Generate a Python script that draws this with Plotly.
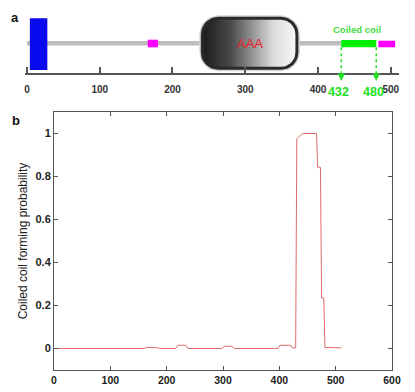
import numpy as np
import plotly.graph_objects as go

# ---------------- data ----------------
# panel b: coiled-coil forming probability along the sequence
residue = [1, 160, 165, 180, 190, 216, 220, 234, 238, 298, 302, 316, 320,
           398, 401, 420, 423, 429, 431, 432, 441, 466, 468, 473, 475, 479, 481, 510]
probability = [0, 0, 0.005, 0.005, 0, 0, 0.015, 0.015, 0, 0, 0.01, 0.01, 0,
               0, 0.015, 0.015, 0.003, 0.003, 0.975, 0.978, 1.0, 1.0, 0.843, 0.843,
               0.235, 0.235, 0.005, 0.003]

# panel a: domain architecture
domain_names = ["N-term", "motif1", "AAA", "Coiled coil", "motif2"]
domain_start = [4, 166, 241, 432, 483]
domain_end = [28, 180, 371, 480, 506]
backbone_end = 432
coil_labels = ["432", "480"]

top_ticks = [0, 100, 200, 300, 400, 500]
x_ticks = [0, 100, 200, 300, 400, 500, 600]
y_ticks = [0, 0.2, 0.4, 0.6, 0.8, 1]
y_tick_text = ["0", "0.2", "0.4", "0.6", "0.8", "1"]

# ---------------- figure ----------------
W, H = 415, 392
FONT = "Liberation Sans, Arial, sans-serif"
GREEN = "#22e022"
fig = go.Figure()

# main probability line
fig.add_trace(go.Scatter(x=residue, y=probability, mode="lines",
                         line=dict(color="#e06a6a", width=1),
                         xaxis="x", yaxis="y", showlegend=False, hoverinfo="skip"))

# ---- panel a geometry (y2 units = pixels above the ruler) ----
def rounded_rect(x0, x1, y0, y1, rx, ry, n=12):
    xs, ys = [], []
    corners = [(x1 - rx, y1 - ry, 0), (x0 + rx, y1 - ry, 90),
               (x0 + rx, y0 + ry, 180), (x1 - rx, y0 + ry, 270)]
    for cx, cy, a0 in corners:
        t = np.radians(np.linspace(a0, a0 + 90, n))
        xs.extend(cx + rx * np.cos(t))
        ys.extend(cy + ry * np.sin(t))
    xs.append(xs[0]); ys.append(ys[0])
    return xs, ys

px_per_res = 0.7275
aaa_i = domain_names.index("AAA")
ax0, ax1 = domain_start[aaa_i], domain_end[aaa_i]
rx = 16 / px_per_res
ry = 16
hx, hy = rounded_rect(ax0, ax1, 5.7, 55.7, rx, ry)
# halo
fig.add_trace(go.Scatter(x=hx, y=hy, mode="lines", line=dict(color="#d4d4d4", width=6),
                         xaxis="x2", yaxis="y2", showlegend=False, hoverinfo="skip"))
fig.add_trace(go.Scatter(x=hx, y=hy, mode="lines", fill="toself",
                         fillgradient=dict(type="horizontal",
                                           colorscale=[[0, "#1a1a1a"], [0.3, "#4a4a4a"],
                                                       [0.75, "#dcdcdc"], [1, "#f8f8f8"]]),
                         line=dict(color="#2a2a2a", width=3),
                         xaxis="x2", yaxis="y2", showlegend=False, hoverinfo="skip"))

shapes = []
# backbone (drawn below)
shapes.append(dict(type="line", xref="x2", yref="y2", x0=0, x1=backbone_end, y0=30.7, y1=30.7,
                   line=dict(color="#bdbdbd", width=4.5), layer="below"))
box_style = {
    "N-term": dict(fill="#0a0aee", y0=4, y1=55.7),
    "motif1": dict(fill="#ff00ff", y0=26.7, y1=34.3),
    "Coiled coil": dict(fill="#00ee00", y0=26.7, y1=34.0),
    "motif2": dict(fill="#ff00ff", y0=26.7, y1=33.3),
}
for name, s, e in zip(domain_names, domain_start, domain_end):
    if name in box_style:
        st = box_style[name]
        shapes.append(dict(type="rect", xref="x2", yref="y2", x0=s, x1=e, y0=st["y0"], y1=st["y1"],
                           fillcolor=st["fill"], line=dict(width=0), layer="above"))

ci = domain_names.index("Coiled coil")
coil_ends = [domain_start[ci], domain_end[ci]]
annotations = []
for xv, lab in zip(coil_ends, coil_labels):
    shapes.append(dict(type="line", xref="x2", yref="y2", x0=xv, x1=xv, y0=26.7, y1=-3,
                       line=dict(color=GREEN, width=1.5, dash="dot")))
    annotations.append(dict(x=xv, y=-7, xref="x2", yref="y2", text="", showarrow=True,
                            ax=0, ay=-5, arrowhead=2, arrowsize=1, arrowwidth=1.5,
                            arrowcolor=GREEN))
    annotations.append(dict(x=xv, y=-18, xref="x2", yref="y2", text=f"<b>{lab}</b>",
                            xshift=-3, showarrow=False,
                            font=dict(family=FONT, size=12.5, color=GREEN)))

annotations.append(dict(x=sum(coil_ends) / 2, y=45, xref="x2", yref="y2",
                        text="<b>Coiled coil</b>", showarrow=False, xshift=-2,
                        font=dict(family=FONT, size=9.5, color="#44dd44")))
annotations.append(dict(x=(ax0 + ax1) / 2, y=30.7, xref="x2", yref="y2", text="AAA",
                        showarrow=False, font=dict(family=FONT, size=13, color="#e8202a")))
# panel letters
annotations.append(dict(x=15 / W, y=1 - 17.5 / H, xref="paper", yref="paper", text="<b>a</b>",
                        xanchor="center", yanchor="middle", showarrow=False,
                        font=dict(family=FONT, size=13, color="#111")))
annotations.append(dict(x=16 / W, y=1 - 120 / H, xref="paper", yref="paper", text="<b>b</b>",
                        xanchor="center", yanchor="middle", showarrow=False,
                        font=dict(family=FONT, size=13, color="#111")))

fig.update_layout(
    width=W, height=H, margin=dict(l=0, r=0, t=0, b=0, autoexpand=False),
    paper_bgcolor="white", plot_bgcolor="white",
    shapes=shapes, annotations=annotations,
    xaxis=dict(domain=[54 / W, 392 / W], range=[0, 600], tickvals=x_ticks,
               ticks="inside", ticklen=4, tickcolor="#555", showline=True, linecolor="#555",
               linewidth=1, mirror="ticks", showgrid=False, zeroline=False,
               tickfont=dict(family=FONT, size=10.5, color="#222", weight="bold"),
               anchor="y", automargin=False),
    yaxis=dict(domain=[(H - 370) / H, (H - 112) / H], range=[-0.1, 1.1], tickvals=y_ticks,
               ticktext=y_tick_text,
               ticks="inside", ticklen=4, tickcolor="#555", showline=True, linecolor="#555",
               linewidth=1, mirror="ticks", showgrid=False, zeroline=False,
               tickfont=dict(family=FONT, size=11, color="#222", weight="bold"),
               title=dict(text="Coiled coil forming probability", standoff=5,
                          font=dict(family=FONT, size=12, color="#222")),
               anchor="x", automargin=False),
    xaxis2=dict(domain=[25 / W, 399 / W], range=[-2.7, 511.3], tickvals=top_ticks,
                anchor="free", position=(H - 74) / H,
                ticks="inside", ticklen=6, tickwidth=1.5, tickcolor="#555",
                showline=True, linecolor="#555", linewidth=1.5, showgrid=False, zeroline=False,
                ticklabelstandoff=6, automargin=False,
                tickfont=dict(family=FONT, size=10, color="#333", weight="bold")),
    yaxis2=dict(domain=[(H - 100) / H, (H - 8) / H], range=[-26, 66], visible=False,
                anchor="x2", automargin=False),
)

fig.write_html("out.html", config={"displayModeBar": False},
               post_script="document.body.style.margin='0';document.body.style.overflow='hidden';")
